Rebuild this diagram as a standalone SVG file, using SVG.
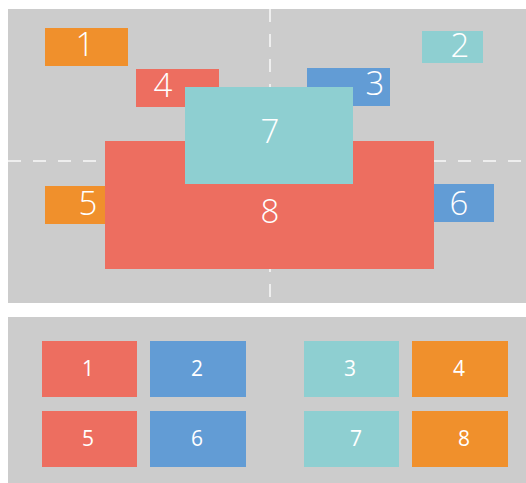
<svg xmlns="http://www.w3.org/2000/svg" width="526" height="483" viewBox="0 0 526 483">
<style>
.panel{fill:#cccccc}
.o{fill:#f0902c}.r{fill:#ed6e60}.b{fill:#629cd5}.t{fill:#8ecfd1}
.big{font-family:"Open Sans","Noto Sans",sans-serif;font-weight:300;font-size:33px;fill:#ffffff;text-anchor:middle}
.sm{font-family:"Open Sans","Noto Sans",sans-serif;font-size:21px;fill:#ffffff;text-anchor:middle}
.dash{stroke:#eeeeee;stroke-width:2;stroke-dasharray:13 12;fill:none}
</style>
<rect class="panel" x="8" y="9" width="518" height="294"/>
<rect class="panel" x="8" y="317" width="518" height="166"/>
<g id="connectors">
<line class="dash" x1="8" y1="161" x2="526" y2="161"/>
<line class="dash" x1="270" y1="9" x2="270" y2="303"/>
</g>
<g id="n1"><rect class="o" x="45" y="28" width="83" height="38"/><text class="big" x="85" y="56">1</text></g>
<g id="n2"><rect class="t" x="422" y="31" width="61" height="32"/><text class="big" x="460" y="57">2</text></g>
<g id="n4"><rect class="r" x="136" y="69" width="83" height="38"/><text class="big" x="163" y="97">4</text></g>
<g id="n3"><rect class="b" x="307" y="68" width="83" height="38"/><text class="big" x="375" y="95">3</text></g>
<g id="n8"><rect class="r" x="105" y="141" width="329" height="128"/><text class="big" x="270" y="223">8</text></g>
<g id="n7"><rect class="t" x="185" y="87" width="168" height="97"/><text class="big" x="270" y="143">7</text></g>
<g id="n5"><rect class="o" x="45" y="186" width="60" height="38"/><text class="big" x="88" y="215">5</text></g>
<g id="n6"><rect class="b" x="434" y="184" width="60" height="38"/><text class="big" x="459" y="215">6</text></g>
<g id="b1"><rect class="r" x="42" y="341" width="95" height="56"/><text class="sm" x="88" y="376">1</text></g>
<g id="b2"><rect class="b" x="150" y="341" width="96" height="56"/><text class="sm" x="197" y="376">2</text></g>
<g id="b3"><rect class="t" x="304" y="341" width="95" height="56"/><text class="sm" x="350" y="376">3</text></g>
<g id="b4"><rect class="o" x="412" y="341" width="96" height="56"/><text class="sm" x="459" y="376">4</text></g>
<g id="b5"><rect class="r" x="42" y="411" width="95" height="56"/><text class="sm" x="88" y="446">5</text></g>
<g id="b6"><rect class="b" x="150" y="411" width="96" height="56"/><text class="sm" x="197" y="446">6</text></g>
<g id="b7"><rect class="t" x="304" y="411" width="95" height="56"/><text class="sm" x="356" y="446">7</text></g>
<g id="b8"><rect class="o" x="412" y="411" width="96" height="56"/><text class="sm" x="464" y="446">8</text></g>
</svg>
